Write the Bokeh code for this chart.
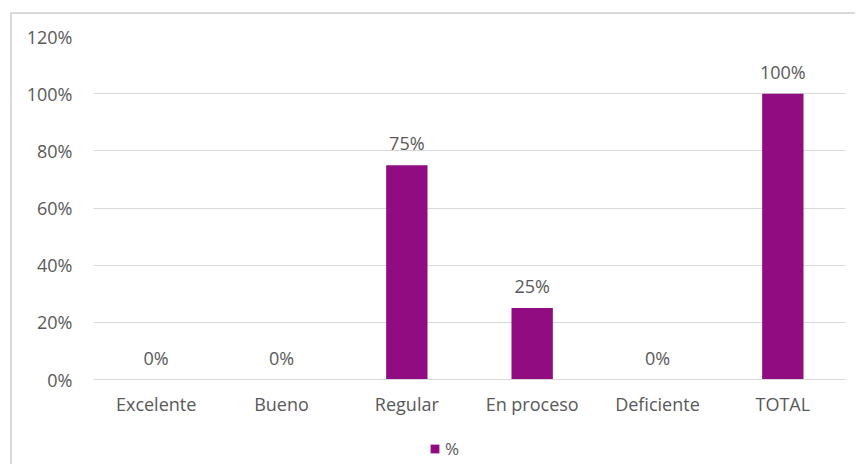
from bokeh.plotting import figure
from bokeh.layouts import column
from bokeh.models import ColumnDataSource, NumeralTickFormatter, Legend, LegendItem, FixedTicker
from bokeh.embed import file_html
from bokeh.resources import INLINE
from bokeh.core.properties import value

categories = ["Excelente", "Bueno", "Regular", "En proceso", "Deficiente", "TOTAL"]
values = [0.0, 0.0, 0.75, 0.25, 0.0, 1.0]
labels = ["0%", "0%", "75%", "25%", "0%", "100%"]
y_ticks = [0.0, 0.2, 0.4, 0.6, 0.8, 1.0, 1.2]
series_name = "%"

FONT = "Open Sans"
TXT = "#595959"
GRID = "#d9d9d9"
BAR = "#900C80"

src = ColumnDataSource(dict(cat=categories, val=values, lab=labels))

p = figure(x_range=categories, y_range=(0, 1.2), width=845, height=406,
           output_backend="svg", toolbar_location=None,
           min_border_left=81, min_border_right=12, min_border_top=22, min_border_bottom=41)
p.styles = {"margin-left": "10px", "margin-top": "12px",
            "border-left": "2px solid #d9d9d9", "border-top": "2px solid #d9d9d9"}
p.outline_line_color = None
p.background_fill_color = "white"
p.border_fill_color = "white"

r = p.vbar(x="cat", top="val", width=0.33, source=src, color=BAR, line_color=None)
p.text(x="cat", y="val", text="lab", source=src, text_align="center", text_baseline="bottom",
       y_offset=-10, text_color=TXT, text_font=value(FONT), text_font_size="18px")

p.xgrid.grid_line_color = None
p.ygrid.grid_line_color = GRID
p.ygrid.grid_line_width = 1

p.yaxis.ticker = FixedTicker(ticks=y_ticks)
p.yaxis.formatter = NumeralTickFormatter(format="0%")
p.yaxis.axis_line_color = None
p.yaxis.major_tick_line_color = None
p.yaxis.minor_tick_line_color = None
p.yaxis.major_label_standoff = 15
p.xaxis.axis_line_color = GRID
p.xaxis.major_tick_line_color = None
p.xaxis.minor_tick_line_color = None
p.xaxis.major_label_standoff = 6
for ax in (p.xaxis, p.yaxis):
    ax.major_label_text_color = TXT
    ax.major_label_text_font = FONT
    ax.major_label_text_font_size = "18px"

# legend strip below the chart
p2 = figure(x_range=categories, y_range=(2, 3), width=845, height=46,
            output_backend="svg", toolbar_location=None,
            x_axis_type=None, y_axis_type=None,
            min_border_left=0, min_border_right=0, min_border_top=0, min_border_bottom=0)
p2.styles = {"margin-left": "10px", "border-left": "2px solid #d9d9d9"}
p2.outline_line_color = None
p2.xgrid.grid_line_color = None
p2.ygrid.grid_line_color = None
r2 = p2.vbar(x="cat", top="val", width=0.33, source=src, color=BAR, line_color=None)

legend = Legend(items=[LegendItem(label=series_name, renderers=[r2])], location=(336, 4),
                orientation="horizontal", glyph_width=11, glyph_height=11, label_standoff=5,
                padding=0, margin=0, border_line_color=None, background_fill_alpha=0,
                label_text_color=TXT, label_text_font=FONT, label_text_font_size="17px")
p2.add_layout(legend, "center")

layout = column(p, p2, spacing=0)
open("out.html", "w").write(file_html(layout, INLINE))
